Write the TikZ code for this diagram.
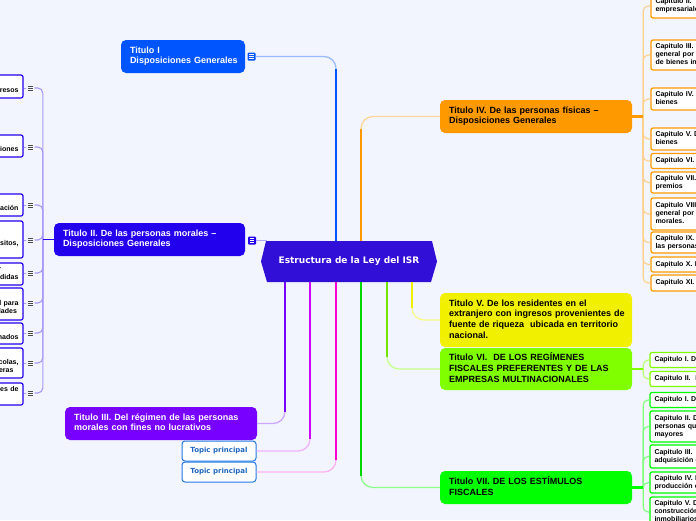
\documentclass[tikz,border=0pt]{standalone}
\usepackage{fontspec}
\setmainfont{Liberation Sans}
\newfontfamily\dejavu{DejaVu Sans}
\usetikzlibrary{calc}
\newcommand\tlns[1]{\begin{tabular}{@{}l@{}}#1\end{tabular}}
\definecolor{bg}{RGB}{242,245,254}
\definecolor{cBlue}{RGB}{0,85,255}
\definecolor{cT2}{RGB}{34,0,238}
\definecolor{cHex}{RGB}{50,15,215}
\definecolor{cT3}{RGB}{119,0,255}
\definecolor{cOrange}{RGB}{255,153,0}
\definecolor{cYellow}{RGB}{240,240,0}
\definecolor{cLGreen}{RGB}{128,255,0}
\definecolor{cGreen}{RGB}{0,255,0}
\definecolor{cMag}{RGB}{204,0,255}
\definecolor{cPink}{RGB}{255,0,204}
\definecolor{cTopic}{RGB}{35,120,225}
\begin{document}
\begin{tikzpicture}[x=1pt,y=-1pt,
  tbox/.style={rounded corners=5pt, inner xsep=9pt, inner ysep=0pt, font=\bfseries\fontsize{9}{10.6}\selectfont, align=left, text width=#1},
  chapR/.style={draw=#1, fill=white, line width=1.2pt, rounded corners=2pt, text width=111pt, inner xsep=4.5pt, inner ysep=0pt, align=left, font=\bfseries\fontsize{7}{8}\selectfont},
  chapL/.style={draw=cT2, fill=white, line width=1.2pt, rounded corners=2pt, text width=151pt, inner xsep=4.5pt, inner ysep=0pt, align=right, font=\bfseries\fontsize{7}{8}\selectfont},
  topic/.style={draw=cTopic, fill=white, line width=1pt, rounded corners=3pt, minimum width=74pt, minimum height=20pt, inner sep=0pt, font=\dejavu\bfseries\fontsize{7}{8}\selectfont, text=cTopic!85!black},
  micon/.style={minimum size=8pt, inner sep=0pt, fill=#1, rounded corners=1pt,
    path picture={\foreach \dy in {-2,0,2} \draw[white, line width=0.7pt] ([xshift=-2.3pt, yshift=\dy pt]path picture bounding box.center) -- ([xshift=2.3pt,yshift=\dy pt]path picture bounding box.center);}},
  licon/.style={minimum size=8pt, inner sep=0pt,
    path picture={\foreach \dy in {-2,0,2} \draw[black!70, line width=0.7pt] ([xshift=-2.8pt, yshift=\dy pt]path picture bounding box.center) -- ([xshift=2.8pt,yshift=\dy pt]path picture bounding box.center);}},
  soft/.style={line width=1.3pt, color=#1, rounded corners=12pt},
  hard/.style={line width=2pt, color=#1, shorten >=12pt},
  brR/.style={line width=1.1pt, color=#1, rounded corners=5pt},
]
\fill[bg] (0,0) rectangle (696,520);
\path[use as bounding box] (0,0) rectangle (696,520);

% central node
\fill[cHex] (261,261.5) -- (266,241) -- (432,241) -- (437,261.5) -- (431,282) -- (267,282) -- cycle;
\node[font=\dejavu\bfseries\fontsize{9}{11}\selectfont, text=white, minimum width=176pt, minimum height=41pt, inner sep=0pt] (c) at (349,261.5) {Estructura de la Ley del ISR};

% main titles
\node[tbox=106pt, fill=cBlue, text=white, minimum height=33pt] (t1) at (183,56.5) {\tlns{Titulo I\\Disposiciones Generales}};
\node[tbox=173pt, fill=cT2, text=white, minimum height=33pt] (t2) at (149.5,239.5) {\tlns{Titulo II. De las personas morales --\\Disposiciones Generales}};
\node[tbox=174pt, fill=cT3, text=white, minimum height=33pt] (t3) at (161,423.5) {\tlns{Titulo III. Del régimen de las personas\\morales con fines no lucrativos}};
\node[tbox=174pt, fill=cOrange, minimum height=33pt] (t4) at (536,116.5) {\tlns{Titulo IV. De las personas físicas --\\Disposiciones Generales}};
\node[tbox=174pt, fill=cYellow, minimum height=54pt] (t5) at (536,320) {\tlns{Titulo V. De los residentes en el\\extranjero con ingresos provenientes de\\fuente de riqueza\ \ ubicada en territorio\\nacional.}};
\node[tbox=174pt, fill=cLGreen, minimum height=42pt] (t6) at (536,369) {\tlns{Titulo VI.\ \ DE LOS REGÍMENES\\FISCALES PREFERENTES Y DE LAS\\EMPRESAS MULTINACIONALES}};
\node[tbox=174pt, fill=cGreen, minimum height=33pt] (t7) at (536,487.5) {\tlns{Titulo VII. DE LOS ESTÍMULOS\\FISCALES}};
\node[topic] (tp1) at (219,451) {Topic principal};
\node[topic] (tp2) at (219,472) {Topic principal};

% icons
\node[micon=cBlue] (t1i) at (251.5,56.5) {};
\node[micon=cT2] (t2i) at (252,240.5) {};

% connectors from the centre
\coordinate (b1) at ([xshift=-13pt]c.north);
\coordinate (b4) at ([xshift=12pt]c.north);
\coordinate (p3) at ([xshift=-64pt]c.south);
\coordinate (pq1) at ([xshift=-39pt]c.south);
\coordinate (pq2) at ([xshift=-13pt]c.south);
\coordinate (p7) at ([xshift=12pt]c.south);
\coordinate (p6) at ([xshift=38pt]c.south);
\coordinate (p5) at ([xshift=63pt]c.south);
\coordinate (hx) at ([xshift=6pt]c.north west);

\draw[soft=cBlue!40!white] (t1i.east) -| (b1);
\draw[hard=cBlue] (b1) -- (b1 |- t1i.east);
\draw[soft=cOrange!40!white] (b4) |- (t4.west);
\draw[hard=cOrange] (b4) -- (b4 |- t4.west);
\draw[soft=cT3!35!white] (p3) |- (t3.east);
\draw[hard=cT3] (p3) -- (p3 |- t3.east);
\draw[soft=cMag!30!white] (pq1) |- (tp1.east);
\draw[hard=cMag] (pq1) -- (pq1 |- tp1.east);
\draw[soft=cPink!30!white] (pq2) |- (tp2.east);
\draw[hard=cPink] (pq2) -- (pq2 |- tp2.east);
\draw[soft=cGreen!45!white] (p7) |- (t7.west);
\draw[hard=cGreen!85!black] (p7) -- (p7 |- t7.west);
\draw[soft=cLGreen!45!white] (p6) |- (t6.west);
\draw[hard=cLGreen!90!black] (p6) -- (p6 |- t6.west);
\draw[soft=cYellow!45!white] (p5) |- (t5.west);
\draw[hard=cYellow] (p5) -- (p5 |- t5.west);
\draw[line width=1.3pt, cT2!35!white] (t2i.east) -- (t2i.east -| hx);

% left chapters of Titulo II
\node[chapL, minimum height=23pt] (l1) at (-57,86.5) {\tlns{Capitulo I.\\De los ingresos}};
\node[chapL, minimum height=22pt] (l2) at (-57,146) {\tlns{Capitulo II.\\De las deducciones}};
\node[chapL, minimum height=22pt] (l3) at (-57,205) {\tlns{Capitulo III.\\Del ajuste por inflación}};
\node[chapL, minimum height=37pt] (l4) at (-57,239.5) {\tlns{Capitulo IV. De las\\instituciones de crédito, de\\seguros, fianzas y de los depósitos,\\arrendadoras financieras}};
\node[chapL, minimum height=22pt] (l5) at (-57,274) {\tlns{Capitulo V. Del derecho a diferir\\o disminuir sus respectivas pérdidas}};
\node[chapL, minimum height=32pt] (l6) at (-57,304) {\tlns{Capitulo VI.\\Del régimen opcional para\\los grupos de sociedades}};
\node[chapL, minimum height=21pt] (l7) at (-57,333.5) {\tlns{Capitulo VII.\\De los coordinados}};
\node[chapL, minimum height=30pt] (l8) at (-57,363) {\tlns{Capitulo VIII. Del régimen de\\las actividades agrícolas, silvícolas,\\ganaderas, forestales y pesqueras}};
\node[chapL, minimum height=22pt] (l9) at (-57,394) {\tlns{Capitulo IX. De las obligaciones de\\las personas morales}};

\coordinate (lh) at ([xshift=-11pt]t2.west);
\foreach \n/\y in {1/88,2/147,3/205,4/240,5/273,6/303,7/333,8/363,9/393} {
  \node[licon] (li\n) at (30.5,\y) {};
  \draw[line width=0.8pt, cT2!40!white] (li\n.west) -- (li\n.west -| l\n.east);
  \draw[brR=cT2!40!white] (lh) |- (li\n.east);
}
\draw[line width=1.8pt, cT2] (t2.west) -- (lh);

% right chapters of Titulo IV
\node[chapR=cOrange, minimum height=24pt] (c2) at (711,6) {\tlns{Capitulo II.\ \ Ingresos por actividades\\empresariales y profesionales}};
\node[chapR=cOrange, minimum height=30pt] (c3) at (711,55) {\tlns{Capitulo III. Ingresos por arrendamiento y en\\general por otorgar el uso o goce temporal\\de bienes inmuebles}};
\node[chapR=cOrange, minimum height=22pt] (c4) at (711,99) {\tlns{Capitulo IV. enajenación de\\bienes}};
\node[chapR=cOrange, minimum height=22pt] (c5) at (711,139) {\tlns{Capitulo V. De la adquisición de\\bienes}};
\node[chapR=cOrange, minimum height=15pt] (c6) at (711,161) {\tlns{Capitulo VI.\ \ De los intereses}};
\node[chapR=cOrange, minimum height=21pt] (c7) at (711,182.5) {\tlns{Capitulo VII. De la obtención de\\premios}};
\node[chapR=cOrange, minimum height=32pt] (c8) at (711,214) {\tlns{Capitulo VIII De los dividendos y en\\general por las ganancias distribuidas por\\morales.}};
\node[chapR=cOrange, minimum height=21pt] (c9) at (711,242.5) {\tlns{Capitulo IX.\ \ De los demás ingresos de\\las personas físicas}};
\node[chapR=cOrange, minimum height=15pt] (c10) at (711,264.5) {\tlns{Capitulo X. De los requisitos}};
\node[chapR=cOrange, minimum height=16pt] (c11) at (711,283) {\tlns{Capitulo XI.\ \ De la declaración anual}};
\coordinate (rh4) at ([xshift=11pt]t4.east);
\foreach \n in {c2,c3,c4,c5,c6,c7,c8,c9,c10,c11}
  \draw[brR=cOrange!45!white] (rh4) |- (\n.west);
\draw[line width=2.5pt, cOrange] (t4.east) -- (rh4);

% right chapters of Titulo VI
\node[chapR=cLGreen, minimum height=15pt] (g1) at (710,360) {\tlns{Capitulo I. De los regímenes fiscales}};
\node[chapR=cLGreen, minimum height=15pt] (g2) at (710,379) {\tlns{Capitulo II.\ \ Empresas multinacionales}};
\coordinate (rh6) at ([xshift=11pt]t6.east);
\foreach \n in {g1,g2}
  \draw[brR=cLGreen!55!white] (rh6) |- (\n.west);
\draw[line width=2.5pt, cLGreen] (t6.east) -- (rh6);

% right chapters of Titulo VII
\node[chapR=cGreen, minimum height=15pt] (h1) at (710,400) {\tlns{Capitulo I. De las cuentas personales}};
\node[chapR=cGreen, minimum height=31pt] (h2) at (710,426.5) {\tlns{Capitulo II. De los estímulos a las\\personas que contraten adultos\\mayores}};
\node[chapR=cGreen, minimum height=23pt] (h3) at (710,456.5) {\tlns{Capitulo III.\ \ Del estímulo a la\\adquisición de combustibles}};
\node[chapR=cGreen, minimum height=21pt] (h4) at (710,482.5) {\tlns{Capitulo IV. Incentivo a la\\producción cinematográfica}};
\node[chapR=cGreen, minimum height=30pt] (h5) at (710,512) {\tlns{Capitulo V. De los fideicomisos de\\construcción y arrendamiento de\\inmobiliarios}};
\coordinate (rh7) at ([xshift=11pt]t7.east);
\foreach \n in {h1,h2,h3,h4,h5}
  \draw[brR=cGreen!50!white] (rh7) |- (\n.west);
\draw[line width=2.5pt, cGreen] (t7.east) -- (rh7);
\end{tikzpicture}
\end{document}
